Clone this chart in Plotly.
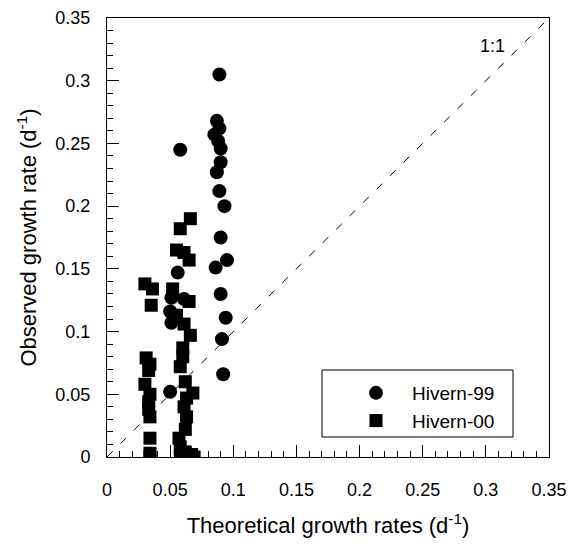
import plotly.graph_objects as go

# Hivern-99 (circles)
h99_x = [0.089, 0.087, 0.089, 0.085, 0.088, 0.090, 0.090, 0.087, 0.089, 0.093,
         0.090, 0.095, 0.086, 0.090, 0.094, 0.091, 0.092,
         0.058, 0.056, 0.051, 0.061, 0.050, 0.051, 0.050]
h99_y = [0.305, 0.268, 0.262, 0.257, 0.252, 0.246, 0.235, 0.227, 0.212, 0.200,
         0.175, 0.157, 0.151, 0.130, 0.111, 0.094, 0.066,
         0.245, 0.147, 0.127, 0.126, 0.116, 0.107, 0.052]

# Hivern-00 (squares)
h00_x = [0.030, 0.036, 0.035, 0.031, 0.034, 0.033, 0.030, 0.034, 0.033, 0.033,
         0.034, 0.034, 0.034, 0.034,
         0.066, 0.058, 0.055, 0.061, 0.065, 0.052, 0.065, 0.055, 0.061, 0.066,
         0.060, 0.058, 0.062, 0.068, 0.061, 0.063, 0.062, 0.058, 0.062, 0.067,
         0.058, 0.064, 0.069, 0.060, 0.063, 0.057]
h00_y = [0.138, 0.134, 0.121, 0.079, 0.074, 0.069, 0.058, 0.050, 0.044, 0.038,
         0.032, 0.015, 0.003, 0.000,
         0.190, 0.182, 0.165, 0.163, 0.157, 0.134, 0.124, 0.113, 0.106, 0.097,
         0.080, 0.072, 0.060, 0.051, 0.040, 0.032, 0.022, 0.008, 0.004, 0.002,
         0.000, 0.000, 0.000, 0.087, 0.047, 0.015]

ref_line = [0.0, 0.35]
axis_range = [0, 0.35]
major_step = 0.05
minor_step = 0.01

FONT = "Liberation Sans, Arial, Helvetica, sans-serif"

# page body has an 8px margin, so the figure is sized/offset to compensate
W, H = 567, 545
L, R, T, B = 99, 26, 10, 96
PW, PH = W - L - R, H - T - B

fig = go.Figure()
fig.add_trace(go.Scatter(x=ref_line, y=ref_line, mode="lines",
                         line=dict(color="black", width=1, dash="8px,11px"),
                         showlegend=False, hoverinfo="skip"))
fig.add_trace(go.Scatter(x=h99_x, y=h99_y, mode="markers", name="Hivern-99",
                         marker=dict(symbol="circle", size=14, color="black")))
fig.add_trace(go.Scatter(x=h00_x, y=h00_y, mode="markers", name="Hivern-00",
                         marker=dict(symbol="square", size=13, color="black")))

axis_common = dict(range=axis_range, tickmode="linear", tick0=0, dtick=major_step,
                   ticks="inside", ticklen=12, tickwidth=1, tickcolor="black",
                   showline=True, linecolor="black", linewidth=1, mirror=True,
                   showgrid=False, zeroline=False, automargin=False,
                   tickfont=dict(family=FONT, size=18, color="black"),
                   minor=dict(tickmode="linear", tick0=0, dtick=minor_step,
                              ticks="inside", ticklen=6,
                              tickcolor="black", tickwidth=1, showgrid=False))

fig.update_xaxes(**axis_common, ticklabelstandoff=16,
                 title=dict(text="Theoretical growth rates (d<sup>-1</sup>)",
                            font=dict(family=FONT, size=22, color="black"),
                            standoff=19))
fig.update_yaxes(**axis_common, ticklabelstandoff=12,
                 title=dict(text="Observed growth rate (d<sup>-1</sup>)",
                            font=dict(family=FONT, size=22, color="black"),
                            standoff=12))

fig.add_annotation(x=0.305, y=0.328, text="1:1", showarrow=False,
                   font=dict(family=FONT, size=18, color="black"))

# legend frame (pixel positions inside plot area converted to paper)
fig.add_shape(type="rect", xref="paper", yref="paper",
              x0=215 / PW, x1=406 / PW,
              y0=20 / PH, y1=87 / PH,
              line=dict(color="black", width=1), fillcolor="white", layer="below")

fig.update_layout(
    width=W, height=H,
    margin=dict(l=L, r=R, t=T, b=B),
    paper_bgcolor="white", plot_bgcolor="white",
    showlegend=True,
    legend=dict(x=233 / PW, y=83 / PH, xanchor="left", yanchor="top",
                bgcolor="rgba(0,0,0,0)", borderwidth=0,
                font=dict(family=FONT, size=19, color="black"),
                itemwidth=62, tracegroupgap=0),
)

fig.write_html("out.html")
